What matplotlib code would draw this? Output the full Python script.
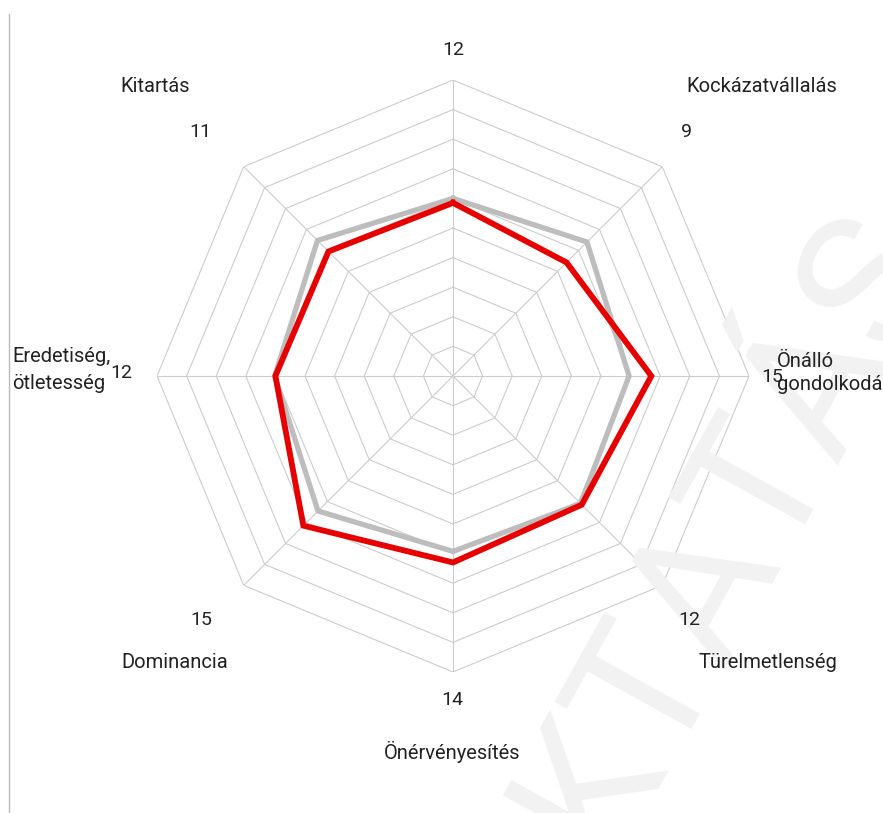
import numpy as np
import matplotlib; matplotlib.use('Agg')
import matplotlib.pyplot as plt

W, H = 883, 813
categories = ['', 'Kockázatvállalás', 'Önálló\ngondolkodás', 'Türelmetlenség',
              'Önérvényesítés', 'Dominancia', 'Eredetiség,\nötletesség', 'Kitartás']
scores = ['12', '9', '15', '12', '14', '15', '12', '11']
red_vals = [11.7, 10.85, 13.4, 12.3, 12.6, 14.3, 12.0, 11.9]
grey_vals = [12.0, 12.8, 11.9, 12.2, 11.85, 12.9, 12.05, 12.95]
rings = [2, 4, 6, 8, 10, 12, 14, 16, 18, 20]

FONT = ['Roboto', 'DejaVu Sans']

def px(x, y):
    return x / W, 1 - y / H

fig = plt.figure(figsize=(W / 100, H / 100), dpi=100)

# faint watermark behind everything
fig.text(*px(700, 590), 'OKTATÁS', rotation=61, fontsize=135, color='#f2f2f2',
         ha='center', va='center', family=FONT, zorder=0)

cx, cy, R = 453, 376, 296
ax = fig.add_axes([(cx - R) / W, (H - cy - R) / H, 2 * R / W, 2 * R / H], projection='polar')
ax.set_theta_offset(np.pi / 2); ax.set_theta_direction(-1)
ax.set_ylim(0, rings[-1])
ax.grid(False); ax.spines['polar'].set_visible(False)
ax.set_xticks([]); ax.set_yticks([])
ax.patch.set_alpha(0)

n = len(categories)
ang = np.linspace(0, 2 * np.pi, n, endpoint=False)
ang_c = np.append(ang, ang[0])
gc = '#cccccc'
for r in rings:
    ax.plot(ang_c, [r] * (n + 1), color=gc, lw=0.8, zorder=1)
for a in ang:
    ax.plot([a, a], [0, rings[-1]], color=gc, lw=0.8, zorder=1)

ax.plot(ang_c, grey_vals + grey_vals[:1], color='#bdbdbd', lw=3.8, zorder=3, solid_joinstyle='miter')
ax.plot(ang_c, red_vals + red_vals[:1], color='#e60000', lw=4.2, zorder=4, solid_joinstyle='miter')

# score labels
score_pos = [(453, 50), (686, 132), (772, 377), (689, 620), (452, 700), (201, 620), (121, 373), (200, 132)]
for s, (x, y) in zip(scores, score_pos):
    fig.text(*px(x, y), s, ha='center', va='center', fontsize=14, family=FONT, color='#222222')

# category labels
cat_pos = [None, (762, 87, 'center', 1.1), (777, 373, 'left', 1.3), (768, 663, 'center', 1.1),
           (452, 752, 'center', 1.1), (175, 663, 'center', 1.1), (12, 370, 'left', 1.55), (155, 87, 'center', 1.1)]
for c, p in zip(categories, cat_pos):
    if p is None:
        continue
    x, y, ha, ls = p
    fig.text(*px(x, y), c, ha=ha, va='center', fontsize=14.5,
             family=FONT, color='#222222', linespacing=ls)

# left border line
fig.add_artist(plt.Line2D([9 / W, 9 / W], [0, 1 - 14 / H], color='#bbbbbb', lw=1))

fig.savefig('out.png', dpi=100, facecolor='white')
